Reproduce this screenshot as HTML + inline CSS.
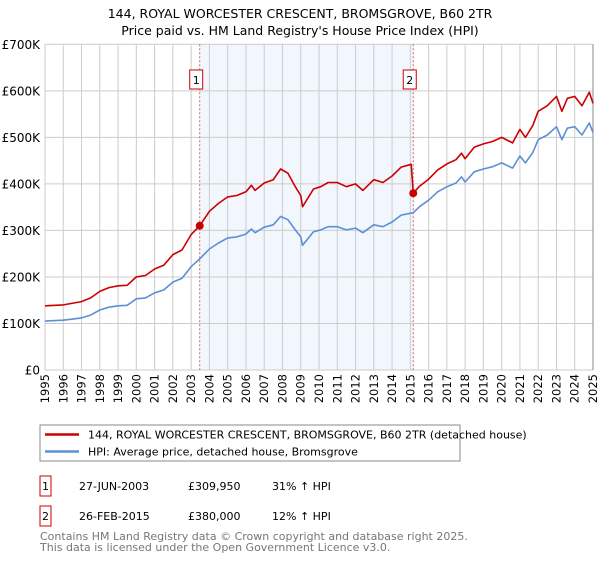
<!DOCTYPE html>
<html><head><meta charset="utf-8"><style>
body{margin:0;background:#fff;font-family:"Liberation Sans","DejaVu Sans",sans-serif;}
svg text{font-family:"DejaVu Sans","Liberation Sans",sans-serif;}
</style></head><body>
<svg id="chart" width="600" height="560" viewBox="0 0 600 560">
<text x="300" y="18" text-anchor="middle" font-size="12.5" fill="#000">144, ROYAL WORCESTER CRESCENT, BROMSGROVE, B60 2TR</text>
<text x="300" y="35" text-anchor="middle" font-size="12.5" fill="#000">Price paid vs. HM Land Registry's House Price Index (HPI)</text>
<g id="plot"></g>
<g>
<rect x="40" y="425" width="420" height="36" fill="#fff" stroke="#888" stroke-width="1"/>
<line x1="45" y1="434.5" x2="79" y2="434.5" stroke="#cc0000" stroke-width="2.5"/>
<text x="88" y="438.5" font-size="11">144, ROYAL WORCESTER CRESCENT, BROMSGROVE, B60 2TR (detached house)</text>
<line x1="45" y1="451.5" x2="79" y2="451.5" stroke="#5b8fd6" stroke-width="2.5"/>
<text x="88" y="455.5" font-size="11">HPI: Average price, detached house, Bromsgrove</text>
</g>
<g font-size="11">
<rect x="40" y="476" width="11" height="20" fill="#fff" stroke="#c00"/>
<text x="45.5" y="490" text-anchor="middle">1</text>
<text x="79" y="490">27-JUN-2003</text>
<text x="188" y="490">£309,950</text>
<text x="272" y="490">31% ↑ HPI</text>
<rect x="40" y="506" width="11" height="20" fill="#fff" stroke="#c00"/>
<text x="45.5" y="520" text-anchor="middle">2</text>
<text x="79" y="520">26-FEB-2015</text>
<text x="188" y="520">£380,000</text>
<text x="272" y="520">12% ↑ HPI</text>
</g>
<text x="40" y="540" font-size="11" fill="#777">Contains HM Land Registry data © Crown copyright and database right 2025.</text>
<text x="40" y="551" font-size="11" fill="#777">This data is licensed under the Open Government Licence v3.0.</text>
</svg>
<script>
const hpiYears=[1995,1996,1997,1997.5,1998,1998.5,1999,1999.5,2000,2000.5,2001,2001.5,2002,2002.5,2003,2003.5,2004,2004.5,2005,2005.5,2006,2006.3,2006.5,2007,2007.5,2007.9,2008.3,2008.7,2009,2009.1,2009.7,2010.1,2010.5,2011,2011.5,2012,2012.4,2013,2013.5,2014,2014.5,2015.16,2015.5,2016,2016.5,2017,2017.5,2017.8,2018,2018.5,2019,2019.5,2020,2020.6,2021,2021.3,2021.7,2022,2022.5,2023,2023.3,2023.6,2024,2024.4,2024.8,2025];
const hpiValues=[105,107,112,118,129,135,138,139,153,155,166,172,189,197,222,240,260,273,284,286,292,303,295,307,312,330,323,301,286,268,297,301,308,308,301,305,295,312,308,318,333,338,351,365,383,394,402,415,404,426,432,437,445,434,460,445,467,495,505,523,495,520,523,505,531,510];
const priceYears=[1995,1996,1997,1997.5,1998,1998.5,1999,1999.5,2000,2000.5,2001,2001.5,2002,2002.5,2003,2003.47,2004,2004.5,2005,2005.5,2006,2006.3,2006.5,2007,2007.5,2007.9,2008.3,2008.7,2009,2009.1,2009.7,2010.1,2010.5,2011,2011.5,2012,2012.4,2013,2013.5,2014,2014.5,2015.05,2015.16,2015.5,2016,2016.5,2017,2017.5,2017.8,2018,2018.5,2019,2019.5,2020,2020.6,2021,2021.3,2021.7,2022,2022.5,2023,2023.3,2023.6,2024,2024.4,2024.8,2025];
const priceValues=[138,140,147,155,169,177,181,182,200,203,217,225,248,258,291,310,341,358,372,375,383,397,386,402,409,432,423,394,375,351,389,394,403,403,394,400,386,409,403,417,436,442,380,395,410,430,443,452,466,454,479,486,491,500,488,517,500,525,556,568,588,556,584,588,568,597,573];
const saleYears=[2003.47,2015.16];
const saleValues=[309.95,380];
const saleLabels=["1","2"];
const yTicks=[0,100,200,300,400,500,600,700];
const yTickLabels=["£0","£100K","£200K","£300K","£400K","£500K","£600K","£700K"];
const xTicks=[1995,1996,1997,1998,1999,2000,2001,2002,2003,2004,2005,2006,2007,2008,2009,2010,2011,2012,2013,2014,2015,2016,2017,2018,2019,2020,2021,2022,2023,2024,2025];

const NS="http://www.w3.org/2000/svg";
const X0=45,X1=593,Y0=370,Y1=44.3;
const x=y=>X0+(y-1995)/30*(X1-X0);
const yS=v=>Y0-v/700*(Y0-Y1);
const g=document.getElementById('plot');
function mk(t,a){const e=document.createElementNS(NS,t);for(const k in a)e.setAttribute(k,a[k]);g.appendChild(e);return e;}
let sh=mk('rect',{x:x(saleYears[0]),y:Y1,width:x(saleYears[1])-x(saleYears[0]),height:Y0-Y1,fill:'#f2f6fd'});


xTicks.forEach(t=>{
 let l=mk('line',{x1:x(t),x2:x(t),y1:Y1,y2:Y0,stroke:'#cccccc','stroke-width':1});
 
 
 let tx=mk('text',{x:0,y:0,'font-size':11.5,'text-anchor':'end',transform:`translate(${x(t)+4},${Y0+4}) rotate(-90)`});
 tx.textContent=t;
 
 
});
yTicks.forEach((t,i)=>{
 let l=mk('line',{x1:X0,x2:X1,y1:yS(t),y2:yS(t),stroke:'#cccccc','stroke-width':1});
 
 
 let tx=mk('text',{x:40,y:yS(t)+4.5,'font-size':12,'text-anchor':'end'});
 tx.textContent=yTickLabels[i];
 
 
});
let rb=mk('line',{x1:X1,x2:X1,y1:Y1,y2:Y0,stroke:'#888','stroke-width':1});


saleYears.forEach((s,i)=>{
 let l=mk('line',{x1:x(s),x2:x(s),y1:Y1,y2:Y0,stroke:'#e06060','stroke-width':1,'stroke-dasharray':'2,2'});
 
 
 let b=mk('rect',{x:x(s)-10,y:70,width:13,height:19,fill:'#fff',stroke:'#c00'});
 
 
 let t=mk('text',{x:x(s)-3.5,y:84,'font-size':11,'text-anchor':'middle'});
 t.textContent=saleLabels[i];
 
 
});
function path(xs,vs){return xs.map((t,i)=>(i?'L':'M')+x(t).toFixed(1)+','+yS(vs[i]).toFixed(1)).join('');}
let hp=mk('path',{d:path(hpiYears,hpiValues),fill:'none',stroke:'#5b8fd6','stroke-width':1.6,'stroke-linejoin':'round'});


let pp=mk('path',{d:path(priceYears,priceValues),fill:'none',stroke:'#cc0000','stroke-width':1.6,'stroke-linejoin':'round'});


saleYears.forEach((s,i)=>{
 let c=mk('circle',{cx:x(s),cy:yS(saleValues[i]),r:4,fill:'#cc0000'});
 
 
});
</script>
</body></html>
